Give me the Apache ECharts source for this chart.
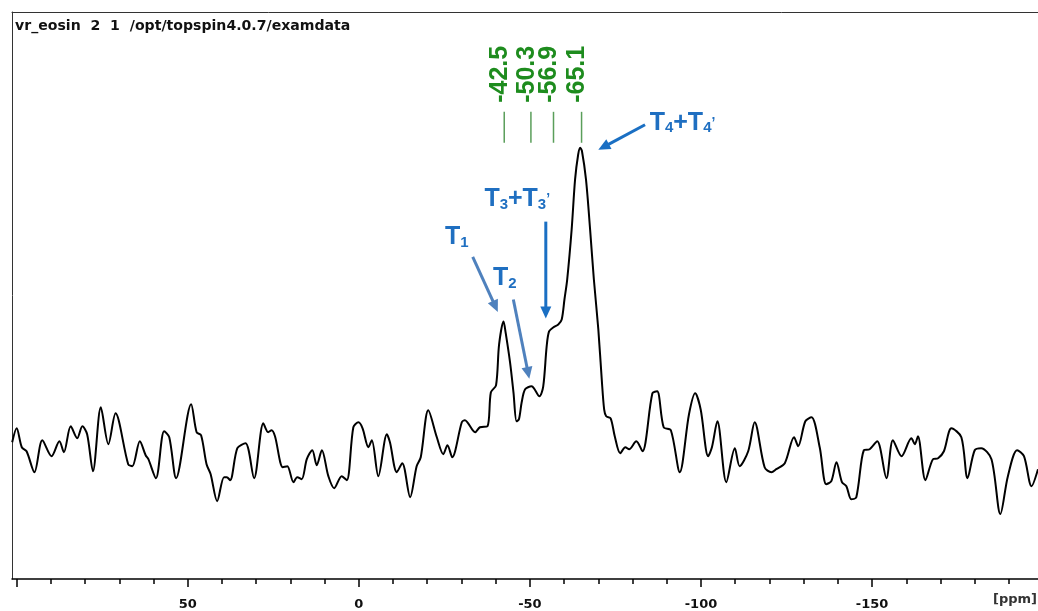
<!DOCTYPE html>
<html><head><meta charset="utf-8">
<script src="https://cdn.jsdelivr.net/npm/echarts@6/dist/echarts.min.js"></script>
<style>html,body{margin:0;padding:0;background:#fff}#c{width:1038px;height:611px}</style>
</head><body><div id="c"></div>
<script>
// ---- data (chemical shift in ppm, intensity in a.u.) ----
const ppm = [
  101.3, 100.0, 98.5, 97.1, 94.8, 92.5, 89.8, 87.5, 86.2, 84.2,
  82.3, 80.8, 79.4, 77.7, 75.4, 73.2, 71.1, 67.4, 66.2, 64.0,
  62.3, 61.5, 59.3, 56.9, 55.4, 53.4, 49.0, 47.4, 46.1, 44.5,
  43.3, 41.4, 39.4, 38.6, 37.6, 35.5, 33.1, 30.6, 27.9, 26.5,
  25.5, 24.5, 22.2, 20.9, 19.1, 18.0, 16.7, 15.2, 13.6, 12.3,
  10.8, 8.9, 7.2, 5.0, 3.5, 1.6, 0.1, -1.1, -2.8, -3.8,
  -5.7, -8.2, -9.1, -11.1, -12.7, -15.0, -16.9, -18.1, -20.3, -22.8,
  -24.7, -25.9, -27.3, -30.1, -31.0, -34.0, -35.4, -37.6, -38.6, -40.1,
  -41.0, -42.3, -42.9, -44.2, -45.2, -46.1, -46.8, -47.6, -48.6, -50.5,
  -51.2, -52.8, -53.9, -54.9, -55.6, -56.8, -58.3, -59.3, -60.1, -60.9,
  -62.2, -63.2, -64.1, -64.7, -65.2, -66.4, -67.6, -68.7, -70.0, -71.0,
  -71.7, -72.3, -73.6, -74.8, -76.4, -77.9, -79.0, -81.1, -82.9, -85.8,
  -87.2, -89.1, -91.2, -93.8, -96.5, -98.3, -99.9, -102.1, -103.2, -104.8,
  -107.4, -109.9, -111.3, -113.8, -115.7, -118.6, -120.6, -122.0, -124.5, -127.2,
  -128.4, -130.5, -132.3, -134.7, -136.6, -138.1, -139.6, -141.2, -142.5, -143.9,
  -145.4, -147.6, -149.3, -151.5, -154.2, -156.1, -158.6, -161.5, -162.5, -163.4,
  -165.6, -167.8, -169.3, -171.0, -173.2, -176.1, -177.9, -180.0, -181.9, -184.9,
  -187.5, -189.7, -192.4, -194.4, -196.6, -198.5
];
const intensity = [
  137, 151, 132, 128, 107, 139, 123, 138, 127, 153,
  141, 153, 145, 108, 172, 135, 166, 115, 113, 138,
  124, 120, 101, 148, 142, 101, 175, 147, 144, 115,
  105, 78, 102, 102, 99, 131, 136, 101, 156, 147,
  149, 143, 112, 113, 97, 102, 100, 120, 129, 114,
  129, 103, 91, 103, 99, 152, 157, 151, 132, 139,
  103, 145, 137, 107, 116, 82, 113, 122, 169, 142,
  125, 134, 122, 157, 159, 147, 152, 153, 187, 194,
  235, 258, 247, 217, 187, 158, 160, 177, 190, 193,
  191, 183, 193, 233, 248, 252, 255, 260, 280, 300,
  350, 400, 425, 432, 429, 400, 350, 300, 250, 200,
  170, 163, 161, 143, 126, 132, 130, 138, 128, 186,
  188, 152, 149, 107, 165, 186, 170, 123, 132, 158,
  97, 131, 113, 128, 157, 112, 107, 110, 116, 142,
  133, 158, 162, 132, 95, 98, 117, 97, 93, 80,
  82, 129, 130, 138, 101, 139, 123, 141, 135, 143,
  99, 120, 121, 128, 151, 142, 101, 129, 131, 120,
  65, 103, 129, 123, 93, 110
];
const peakPpm = [-42.5, -50.3, -56.9, -65.1];
const peakLabels = ['-42.5', '-50.3', '-56.9', '-65.1'];
const minorTicks = [100, 90, 80, 70, 60, 50, 40, 30, 20, 10, 0, -10, -20, -30, -40, -50, -60, -70, -80, -90, -100, -110, -120, -130, -140, -150, -160, -170, -180, -190];
const majorTicks = [100, 50, 0, -50, -100, -150];
const tickLabels = [50, 0, -50, -100, -150];
const titleText = 'vr_eosin  2  1  /opt/topspin4.0.7/examdata';
const unitText = '[ppm]';

// ---- annotation layout (in axis units) ----
const X_MIN = -198.5, X_MAX = 101.36, Y_MAX = 568;
const PEAK_LINE_LOW = 437, PEAK_LINE_HIGH = 468, PEAK_TEXT_START = 477;
const annotations = [
  {text: '{b|T}{s|4}{b|+T}{s|4}{q|’}', at: [-85.0, 444], from: [-83.65, 455], to: [-70.0, 430], arrow: '#1a6fc3'},
  {text: '{b|T}{s|3}{b|+T}{s|3}{q|’}', at: [-36.7, 367.5], from: [-54.65, 358], to: [-54.65, 261], arrow: '#1a6fc3'},
  {text: '{b|T}{s|1}', at: [-25.2, 329.7], from: [-33.29, 322.7], to: [-40.63, 267.5], arrow: '#4f81bd'},
  {text: '{b|T}{s|2}', at: [-39.2, 288.3], from: [-45.16, 280], to: [-49.83, 200.5], arrow: '#4f81bd'}
];

const BLUE = '#1f6fc1';
const lineData = ppm.map((p, i) => [p, intensity[i]]);

function arrowEls(a, b, color, w, headLen, headW) {
  const dx = b[0] - a[0], dy = b[1] - a[1], L = Math.hypot(dx, dy);
  const ux = dx / L, uy = dy / L;
  const bx = b[0] - ux * headLen, by = b[1] - uy * headLen;
  return [
    {type: 'line', shape: {x1: a[0], y1: a[1], x2: bx + ux, y2: by + uy}, style: {stroke: color, lineWidth: w}},
    {type: 'polygon', shape: {points: [[b[0], b[1]], [bx - uy * headW, by + ux * headW], [bx + uy * headW, by - ux * headW]]}, style: {fill: color}}
  ];
}

const chart = echarts.init(document.getElementById('c'), null, {renderer: 'canvas'});
const axisBase = {type: 'value', inverse: true, min: X_MIN, max: X_MAX, splitLine: {show: false}};
chart.setOption({
  animation: false,
  backgroundColor: '#fff',
  title: {
    text: titleText, left: 15, top: 19, padding: 0,
    textStyle: {fontFamily: 'DejaVu Sans', fontWeight: 'bold', fontSize: 14.1, color: '#111'}
  },
  graphic: [{
    type: 'text', right: 1, top: 593.5,
    style: {text: unitText, font: 'bold 13px "DejaVu Sans"', fill: '#333'}
  }],
  grid: {left: 12, right: 0, top: 12, bottom: 31, containLabel: false},
  xAxis: [
    Object.assign({}, axisBase, {
      position: 'bottom',
      axisLine: {show: true, onZero: false, lineStyle: {color: '#000', width: 1.5}},
      axisTick: {show: true, customValues: majorTicks, length: 8, lineStyle: {color: '#000', width: 1.5}},
      axisLabel: {show: true, customValues: tickLabels, margin: 19, fontFamily: 'DejaVu Sans', fontWeight: 'bold', fontSize: 13, color: '#111',
        formatter: v => String(v)}
    }),
    Object.assign({}, axisBase, {
      position: 'bottom',
      axisLine: {show: false, onZero: false},
      axisTick: {show: true, customValues: minorTicks, length: 5, lineStyle: {color: '#000', width: 1.5}},
      axisLabel: {show: false}
    }),
    Object.assign({}, axisBase, {
      position: 'top',
      axisLine: {show: true, onZero: false, lineStyle: {color: '#333', width: 1}},
      axisTick: {show: false}, axisLabel: {show: false}
    })
  ],
  yAxis: {
    type: 'value', min: 0, max: Y_MAX, position: 'left',
    axisLine: {show: true, onZero: false, lineStyle: {color: '#333', width: 1}},
    axisTick: {show: false}, axisLabel: {show: false}, splitLine: {show: false}
  },
  series: [
    {
      type: 'line', xAxisIndex: 0, data: lineData, showSymbol: false, smooth: 0.3,
      lineStyle: {color: '#000', width: 2}, z: 3
    },
    {
      type: 'custom', xAxisIndex: 0, data: peakPpm.map(p => [p, PEAK_LINE_LOW]), z: 4,
      renderItem: function (params, api) {
        const i = params.dataIndex, p = peakPpm[i];
        const a = api.coord([p, PEAK_LINE_LOW]);
        const b = api.coord([p, PEAK_LINE_HIGH]);
        const t = api.coord([p, PEAK_TEXT_START]);
        return {type: 'group', children: [
          {type: 'line', shape: {x1: a[0], y1: a[1], x2: b[0], y2: b[1]}, style: {stroke: '#5a9e5a', lineWidth: 1.5}},
          {type: 'text', x: t[0] - 4, y: t[1], rotation: Math.PI / 2,
            style: {text: peakLabels[i], fill: '#1e8c1e', fontFamily: 'Liberation Sans', fontWeight: 'bold', fontSize: 25, align: 'left', verticalAlign: 'middle'}}
        ]};
      }
    },
    {
      type: 'custom', xAxisIndex: 0, data: annotations.map(a => a.to), z: 5,
      renderItem: function (params, api) {
        const an = annotations[params.dataIndex];
        const at = api.coord(an.at), f = api.coord(an.from), t = api.coord(an.to);
        const els = arrowEls(f, t, an.arrow, 3, 12, 5.5);
        els.push({type: 'text', x: at[0], y: at[1], style: {
          text: an.text, align: 'left', verticalAlign: 'bottom', fill: BLUE,
          rich: {
            b: {fontFamily: 'Liberation Sans', fontWeight: 'bold', fontSize: 25, lineHeight: 26, fill: BLUE},
            s: {fontFamily: 'Liberation Sans', fontWeight: 'bold', fontSize: 15, lineHeight: 10, verticalAlign: 'bottom', fill: BLUE},
            q: {fontFamily: 'Liberation Sans', fontWeight: 'bold', fontSize: 14, lineHeight: 26, fill: BLUE}
          }
        }});
        return {type: 'group', children: els};
      }
    }
  ]
});
</script>
</body></html>
